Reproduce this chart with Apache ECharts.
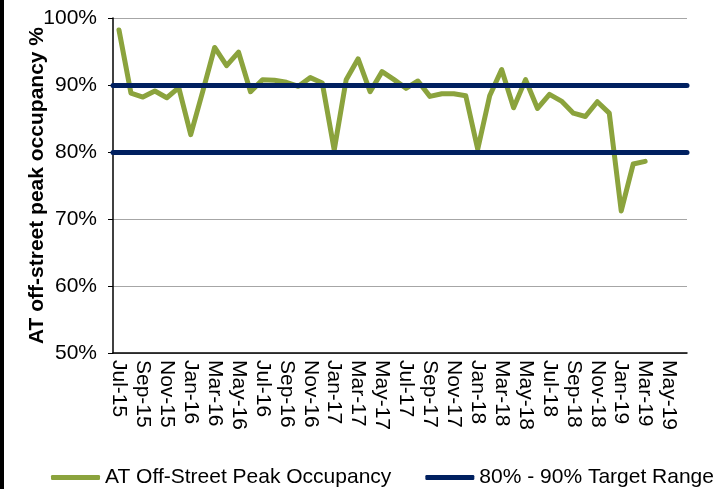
<!DOCTYPE html>
<html>
<head>
<meta charset="utf-8">
<script src="https://cdn.jsdelivr.net/npm/echarts@6/dist/echarts.min.js"></script>
<style>
  html, body { margin: 0; padding: 0; background: #fff; }
  #chart { width: 720px; height: 489px; }
</style>
</head>
<body>
<div id="chart"></div>
<script>
// months on the axis (Jul-15 .. Jun-19)
const months = [
  'Jul-15','Aug-15','Sep-15','Oct-15','Nov-15','Dec-15',
  'Jan-16','Feb-16','Mar-16','Apr-16','May-16','Jun-16','Jul-16','Aug-16','Sep-16','Oct-16','Nov-16','Dec-16',
  'Jan-17','Feb-17','Mar-17','Apr-17','May-17','Jun-17','Jul-17','Aug-17','Sep-17','Oct-17','Nov-17','Dec-17',
  'Jan-18','Feb-18','Mar-18','Apr-18','May-18','Jun-18','Jul-18','Aug-18','Sep-18','Oct-18','Nov-18','Dec-18',
  'Jan-19','Feb-19','Mar-19','Apr-19','May-19','Jun-19'
];

// AT off-street peak occupancy, % (Jul-15 .. Mar-19)
const occupancy = [
  98.2, 88.8, 88.2, 89.1, 88.1, 89.6,
  82.6, 89.0, 95.6, 92.9, 94.9, 89.0, 90.8, 90.7, 90.4, 89.8, 91.1, 90.3,
  80.3, 90.8, 93.9, 89.0, 92.0, 90.8, 89.5, 90.6, 88.3, 88.7, 88.7, 88.4,
  80.4, 88.4, 92.3, 86.6, 90.8, 86.5, 88.6, 87.6, 85.8, 85.3, 87.5, 85.8,
  71.2, 78.2, 78.6
];

// target band edges
const targetRange = [80, 90];

const FONT = '"Liberation Sans", Arial, sans-serif';

let chart = echarts.init(document.getElementById('chart'));
chart.setOption({
  animation: false,
  backgroundColor: '#fff',
  graphic: [
    { type: 'rect', left: 0, top: 0, shape: { width: 4, height: 489 }, style: { fill: '#000' } }
  ],
  grid: { left: 113, right: 33, top: 18, bottom: 136 },
  legend: {
    left: 46,
    top: 462,
    itemWidth: 49,
    itemHeight: 5,
    itemGap: 34,
    icon: 'roundRect',
    textStyle: { fontFamily: FONT, fontSize: 21, color: '#000' },
    data: ['AT Off-Street Peak Occupancy', '80% - 90% Target Range']
  },
  xAxis: {
    type: 'category',
    data: months,
    boundaryGap: true,
    axisLine: { lineStyle: { color: '#000', width: 1.5 } },
    axisTick: { interval: 1, length: 5, lineStyle: { color: '#000' } },
    axisLabel: {
      interval: 1,
      rotate: -90,
      margin: 7,
      fontFamily: FONT,
      fontSize: 21,
      color: '#000'
    },
    splitLine: { show: false }
  },
  yAxis: {
    type: 'value',
    min: 50,
    max: 100,
    interval: 10,
    name: 'AT off-street peak occupancy %',
    nameLocation: 'middle',
    nameGap: 65,
    nameMoveOverlap: false,
    nameTextStyle: { fontFamily: FONT, fontSize: 21, fontWeight: 'bold', color: '#000' },
    axisLine: { show: true, lineStyle: { color: '#000', width: 1.5 } },
    axisTick: { show: true, length: 5, lineStyle: { color: '#000' } },
    axisLabel: {
      formatter: '{value}%',
      margin: 16,
      fontFamily: FONT,
      fontSize: 21,
      color: '#000'
    },
    splitLine: { lineStyle: { color: '#a6a6a6', width: 1 } }
  },
  series: [
    {
      name: 'AT Off-Street Peak Occupancy',
      type: 'line',
      data: occupancy,
      symbol: 'none',
      color: '#8BA33D',
      lineStyle: { width: 5, color: '#8BA33D', cap: 'round', join: 'round' },
      z: 3
    },
    {
      name: '80% - 90% Target Range',
      type: 'line',
      data: [],
      symbol: 'none',
      color: '#002060',
      lineStyle: { width: 5, color: '#002060' },
      markLine: {
        silent: true,
        symbol: 'none',
        label: { show: false },
        lineStyle: { color: '#002060', width: 5, type: 'solid', cap: 'round' },
        data: targetRange.map(v => ({ yAxis: v }))
      },
      z: 2
    }
  ]
});
</script>
</body>
</html>
